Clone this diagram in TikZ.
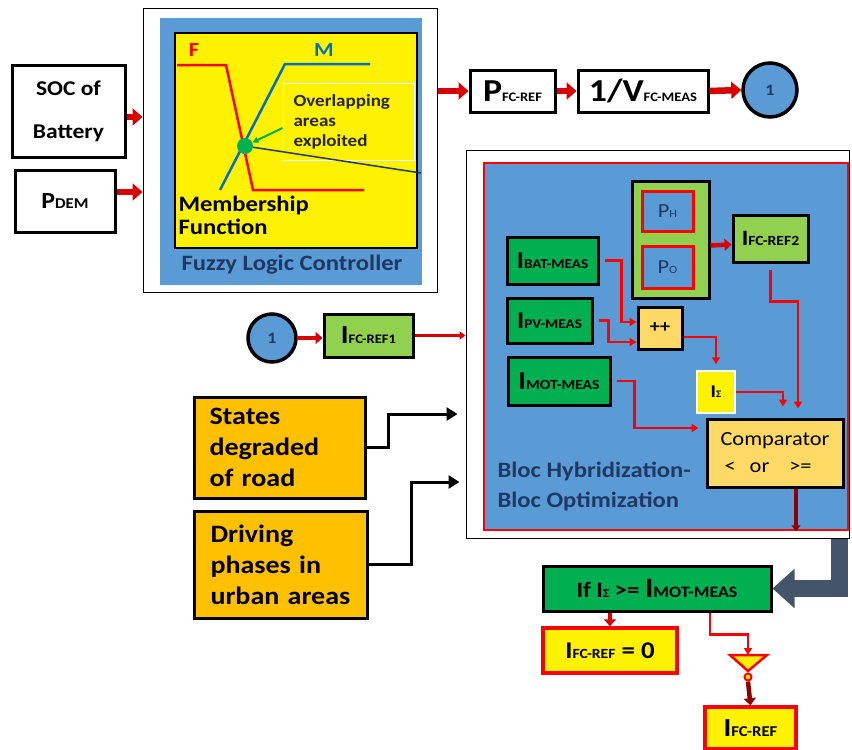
\documentclass[tikz,border=0pt]{standalone}
\usepackage{fontspec}
\setmainfont{Carlito}[FakeStretch=1.12]
\usetikzlibrary{arrows.meta,positioning}
\definecolor{panel}{HTML}{5B9BD5}
\definecolor{navy}{HTML}{1F3864}
\definecolor{lgreen}{HTML}{92D050}
\definecolor{dgreen}{HTML}{00B050}
\definecolor{amber}{HTML}{FFC000}
\definecolor{sand}{HTML}{FFD966}
\definecolor{slate}{HTML}{44546A}
\definecolor{fblue}{HTML}{0070C0}
\definecolor{dred}{HTML}{C00000}
\newcommand\fs[2]{\fontsize{#1}{#2}\selectfont}
\newcommand\lo[2][13]{{\fontsize{#1}{#1}\selectfont #2}}

\begin{document}
\begin{tikzpicture}[x=1pt,y=-1pt,
	box/.style={draw,line width=3pt,inner sep=1pt,font=\bfseries},
	sz/.style 2 args={minimum width=#1pt,minimum height=#2pt},
	blockarrow/.style={draw=red!85!black,line width=6.5pt,-{Triangle[length=10pt,width=17pt]}},
	smallarrow/.style={draw=red!85!black,line width=4.5pt,-{Triangle[length=7pt,width=12pt]}},
	wire/.style={red,line width=2.2pt,-{Triangle[length=7pt,width=8pt]}},
	feed/.style={black,line width=3pt,-{Triangle[length=11pt,width=13pt]}},
	connector/.style={draw,circle,line width=3.5pt,fill=panel,inner sep=0pt,font=\bfseries\fs{16}{16},text=navy},
	redbox/.style={box,draw=red,fill=yellow,line width=3.5pt}]
	\useasboundingbox (0,0) rectangle (852,750);
	\fill[white] (0,0) rectangle (852,750);

	\node[box,sz={113}{92},align=center,font=\bfseries\fs{21}{43}] (soc) at (68.5,111) {SOC of\\Battery};
	\node[box,sz={100}{62},font=\bfseries\fs{23}{23}] (pdem) at (65,201) {P\lo[15]{DEM}};

	\node[draw,line width=1pt,fill=white,sz={294}{284}] (fuzzy) at (290,150) {};
	\node[fill=panel,sz={262}{267}] (fzpanel) at (291,151.5) {};
	\node[draw,line width=2.5pt,fill=yellow,sz={242}{215}] (plot) at (296,140.5) {};
	\node[text=red,font=\bfseries\fs{20}{20}] (flab) at (194,50) {F};
	\node[text=fblue,font=\bfseries\fs{20}{20}] (mlab) at (324,50) {M};
	\draw[red,line width=2.5pt] (177,65) -- (226,65) -- (253,190) -- (364,190);
	\draw[fblue,line width=2.5pt] (220,190) -- (285,64) -- (370,64);
	\node[draw=white,line width=1pt,sz={131}{77},align=left,text width=110pt,font=\bfseries\fs{17}{20},text=black!85] (ovl) at (348.5,121.5) {Overlapping\\areas\\exploited};
	\node[circle,fill=dgreen,minimum size=16pt,inner sep=0pt] (dot) at (245,146) {};
	\draw[navy,line width=1.5pt] (dot) -- (421,173);
	\draw[dgreen,line width=2pt,-{Triangle[length=6pt,width=6pt]}] ([yshift=-6.5pt]ovl.west) -- (dot);
	\node[anchor=north west,align=left,font=\bfseries\fs{22}{23}] (memb) at (175,193) {Membership\\Function};
	\node[text=navy,font=\bfseries\fs{22}{22}] (flc) at (292,265) {Fuzzy Logic Controller};

	\draw[blockarrow] ([yshift=-6pt]soc.east) -- ([yshift=-6pt]soc.east -| fuzzy.west);
	\draw[blockarrow] ([yshift=9pt]pdem.east) -- ([yshift=9pt]pdem.east -| fuzzy.west);

	\node[box,sz={85}{42},font=\bfseries\fs{32}{32}] (pfc) at (512.5,91) {P\lo[13]{FC-REF}};
	\node[box,sz={130}{42},font=\bfseries\fs{32}{32}] (vfc) at (643,91) {1/V\lo[13]{FC-MEAS}};
	\node[connector,minimum size=54pt] (c1) at (770,90) {1};
	\draw[blockarrow] (fuzzy.east |- pfc.west) -- (pfc.west);
	\draw[blockarrow] (pfc.east) -- (vfc.west);
	\draw[blockarrow] (vfc.east) -- (c1.west);

	\node[draw,line width=1pt,fill=white,sz={383}{388}] (hyb) at (657.5,344) {};
	\node[draw=red,line width=2.5pt,fill=panel,sz={364}{367}] (hybpanel) at (666,346.5) {};
	\node[box,fill=lgreen,sz={77}{117}] (grp) at (670.5,239.5) {};
	\node[box,draw=red,fill=panel,sz={51}{40},text=navy,font=\fs{20}{20}] (ph) at (667.5,211) {P\lo[11]{H}};
	\node[box,draw=red,fill=panel,sz={51}{42},text=navy,font=\fs{20}{20}] (po) at (667.5,267) {P\lo[11]{O}};
	\node[box,fill=lgreen,sz={75}{47},font=\bfseries\fs{22}{22}] (ref2) at (770.5,238.5) {I\lo[14]{FC-REF2}};
	\node[box,fill=dgreen,sz={91}{47},font=\bfseries\fs{24}{24}] (bat) at (552.5,260.5) {I\lo[13.5]{BAT-MEAS}};
	\node[box,fill=dgreen,sz={85}{45},font=\bfseries\fs{24}{24}] (pv) at (549.5,320.5) {I\lo[13.5]{PV-MEAS}};
	\node[box,fill=dgreen,sz={102}{48},font=\bfseries\fs{26}{26}] (mot) at (559,381) {I\lo[14]{MOT-MEAS}};
	\node[box,fill=sand,sz={44}{42},font=\bfseries\fs{18}{18}] (plus) at (660,328) {++};
	\node[draw=white,line width=1.5pt,fill=yellow,sz={38}{42},font=\bfseries\fs{18}{18}] (isig) at (716,392) {I\lo[10]{Σ}};
	\node[box,fill=sand,sz={136}{68},align=left,font=\fs{20}{27}] (comp) at (775,453) {Comparator\\\hspace{4pt}<\hspace{14pt}or\hspace{20pt}>=};
	\node[anchor=north west,align=left,text=navy,font=\bfseries\fs{22}{30}] (bloc) at (494,458) {Bloc Hybridization-\\Bloc Optimization};

	\draw[smallarrow] ([yshift=-6pt]grp.east) -- ([yshift=-6pt]ref2.west);
	\draw[wire] ([xshift=5pt]bat.east) -- ++(17,0) |- ([yshift=6pt]plus.west);
	\draw[wire] ([xshift=5pt]pv.east) -- ++(10,0) |- ([yshift=-14pt]plus.west);
	\draw[wire] ([yshift=-9pt]plus.east) -| ([yshift=6pt]isig.north);
	\draw[wire] (isig.east) -| ([xshift=8pt,yshift=11pt]comp.north);
	\draw[wire] ([yshift=-6pt]ref2.south) -- ++(0,32) -| ([xshift=23pt,yshift=9pt]comp.north);
	\draw[wire] ([xshift=5pt]mot.east) -- ++(18,0) |- ([xshift=-7pt,yshift=25pt]comp.west);
	\draw[draw=red!55!black,line width=4pt,-{Triangle[length=6pt,width=9pt]}] ([xshift=21pt]comp.south) -- ([xshift=21pt]comp.south |- hybpanel.south);

	\node[connector,minimum size=48pt] (c1b) at (272,338) {1};
	\node[box,fill=lgreen,sz={89}{43},font=\bfseries\fs{26}{26}] (ref1) at (368.5,335.5) {I\lo[13]{FC-REF1}};
	\draw[smallarrow] (c1b.east) -- (c1b.east -| ref1.west);
	\draw[draw=red!85!black,line width=3pt,-{Triangle[length=6pt,width=8pt]}] (ref1.east) -- (ref1.east -| hyb.west);

	\node[box,fill=amber,sz={171}{101},align=left,text width=140pt,font=\bfseries\fs{25}{31}] (states) at (279.5,447.5) {States\\degraded\\of road};
	\node[box,fill=amber,sz={173}{107},align=left,text width=140pt,font=\bfseries\fs{25}{31}] (drive) at (280.5,564.5) {Driving\\phases in\\urban areas};
	\draw[feed] (states.east) -- ++(22,0) |- ([xshift=-8pt,yshift=-70pt]hyb.west);
	\draw[feed] (drive.east) -- ++(43,0) |- ([xshift=-6pt,yshift=-138pt]hyb.west);

	\node[box,fill=dgreen,sz={228}{45},font=\bfseries\fs{22}{22}] (ifbox) at (657,588.5) {If I\lo[12]{Σ} >= \fs{28}{28}I\lo[16]{MOT-MEAS}};
	\draw[slate,line width=17pt,-{Triangle[length=22pt,width=38pt]}] ([xshift=-10pt]hyb.south east) |- (ifbox.east);
	\node[redbox,sz={134}{45},font=\bfseries\fs{24}{24}] (r0) at (610,650.5) {I\lo[14]{FC-REF} = 0};
	\draw[smallarrow] (r0.north |- ifbox.south) -- (r0.north);
	\coordinate (tri) at (748,655);
	\draw[red,line width=2.5pt,fill=yellow] (730,655) -- (767,655) -- (748,671) -- cycle;
	\node[circle,draw=red,line width=2pt,fill=yellow,minimum size=7pt,inner sep=0pt] (bub) at (748,677) {};
	\draw[wire] ([xshift=53pt]ifbox.south) -- ++(0,22) -| (tri);
	\node[redbox,sz={91}{42},font=\bfseries\fs{26}{26}] (rref) at (750.5,728) {I\lo[15]{FC-REF}};
	\draw[smallarrow,draw=red!55!black] (bub.south) -- (rref.north);
\end{tikzpicture}
\end{document}
